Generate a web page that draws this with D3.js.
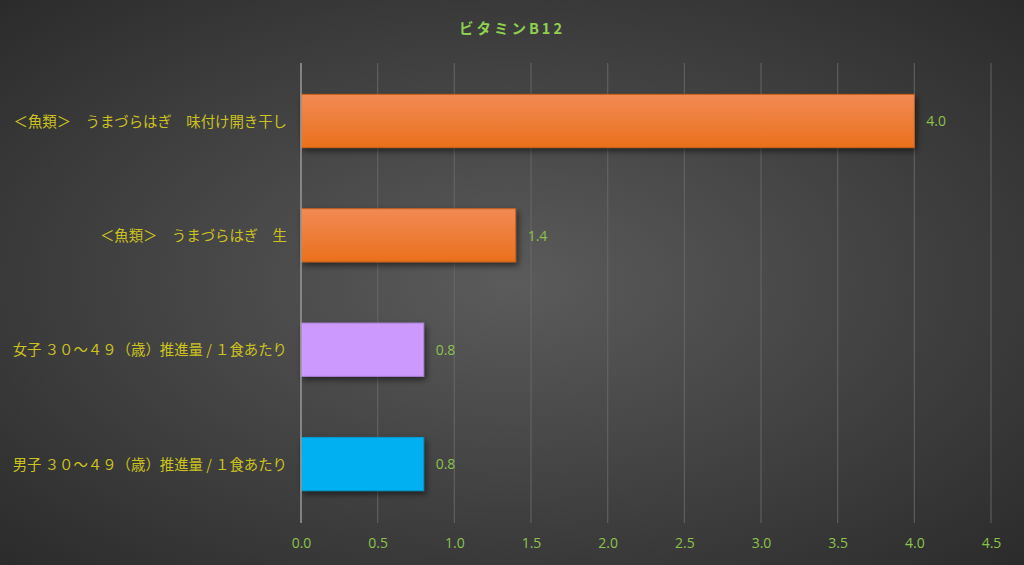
<!DOCTYPE html>
<html><head><meta charset="utf-8">
<script src="https://cdn.jsdelivr.net/npm/d3@7"></script>
<style>html,body{margin:0;padding:0;background:#333;}svg{display:block;}</style>
</head><body>
<script>
const categories = ["＜魚類＞　うまづらはぎ　味付け開き干し","＜魚類＞　うまづらはぎ　生","女子 ３０～４９（歳）推進量 / １食あたり","男子 ３０～４９（歳）推進量 / １食あたり"];
const values = [4.0, 1.4, 0.8, 0.8];
const valueLabels = ["4.0","1.4","0.8","0.8"];
const barColors = ["orange","orange","#cc99ff","#00b0f0"];
const tickValues = [0,0.5,1,1.5,2,2.5,3,3.5,4,4.5];
const title = "ビタミンB12";

const W=1024,H=565;
const svg=d3.select("body").append("svg").attr("width",W).attr("height",H);
const defs=svg.append("defs");
const rg=defs.append("radialGradient").attr("id","bg").attr("cx","50%").attr("cy","50%").attr("r","75%");
rg.append("stop").attr("offset","0%").attr("stop-color","#5b5b5b");
rg.append("stop").attr("offset","100%").attr("stop-color","#282828");
const og=defs.append("linearGradient").attr("id","og").attr("x1",0).attr("y1",0).attr("x2",0).attr("y2",1);
og.append("stop").attr("offset","0%").attr("stop-color","#f28a55");
og.append("stop").attr("offset","100%").attr("stop-color","#ea701c");
const f=defs.append("filter").attr("id","sh").attr("x","-10%").attr("y","-20%").attr("width","130%").attr("height","160%");
f.append("feDropShadow").attr("dx",2).attr("dy",3).attr("stdDeviation",3).attr("flood-color","#000").attr("flood-opacity",0.55);

svg.append("rect").attr("width",W).attr("height",H).attr("fill","url(#bg)");

const x=d3.scaleLinear().domain([0,4.5]).range([301,991]);
const y=d3.scaleBand().domain(categories).range([63,521]).paddingInner(0.535).paddingOuter(0.27);

// gridlines
svg.append("g").selectAll("line").data(tickValues.slice(1)).join("line")
 .attr("x1",d=>x(d)).attr("x2",d=>x(d)).attr("y1",63).attr("y2",523)
 .attr("stroke","#6a6a6a").attr("stroke-width",1.2).attr("opacity",0.75);

// bars
svg.append("g").selectAll("rect").data(categories).join("rect")
 .attr("x",x(0)).attr("y",d=>y(d)+0.5).attr("width",(d,i)=>x(values[i])-x(0)).attr("height",y.bandwidth())
 .attr("fill",(d,i)=>barColors[i]==="orange"?"url(#og)":barColors[i])
 .attr("stroke",(d,i)=>barColors[i]==="orange"?"#c9601a":d3.color(barColors[i]).darker(0.4))
 .attr("stroke-width",1)
 .attr("filter","url(#sh)");

// axis line
svg.append("line").attr("x1",x(0)).attr("x2",x(0)).attr("y1",63).attr("y2",523)
 .attr("stroke","#9a9a9a").attr("stroke-width",1.5);

// x axis
const xa=svg.append("g").attr("transform","translate(0,523)")
 .call(d3.axisBottom(x).tickValues(tickValues).tickFormat(d3.format(".1f")).tickSize(0).tickPadding(15));
xa.select(".domain").remove();
xa.selectAll("text").attr("fill","#8cc24c").attr("font-family","'Open Sans','Noto Sans',sans-serif").attr("font-size",14);

// category labels
svg.append("g").selectAll("text").data(categories).join("text")
 .attr("x",287).attr("y",d=>y(d)+y.bandwidth()/2+1).attr("dy","0.35em")
 .attr("text-anchor","end").attr("fill","#cbc21e")
 .attr("font-family","'Noto Sans CJK JP',sans-serif").attr("font-size",14.4)
 .text(d=>d);

// value labels
svg.append("g").selectAll("text").data(categories).join("text")
 .attr("x",(d,i)=>x(values[i])+12).attr("y",d=>y(d)+y.bandwidth()/2+1).attr("dy","0.35em")
 .attr("fill","#8cc24c").attr("font-family","'Open Sans','Noto Sans',sans-serif").attr("font-size",14)
 .text((d,i)=>valueLabels[i]);

// title
svg.append("text").attr("x",512).attr("y",34).attr("text-anchor","middle")
 .attr("fill","#8fd14f").attr("font-weight","bold").attr("letter-spacing","3px")
 .attr("font-family","'Noto Sans CJK JP',sans-serif").attr("font-size",14.5)
 .text(title);
</script>
</body></html>
